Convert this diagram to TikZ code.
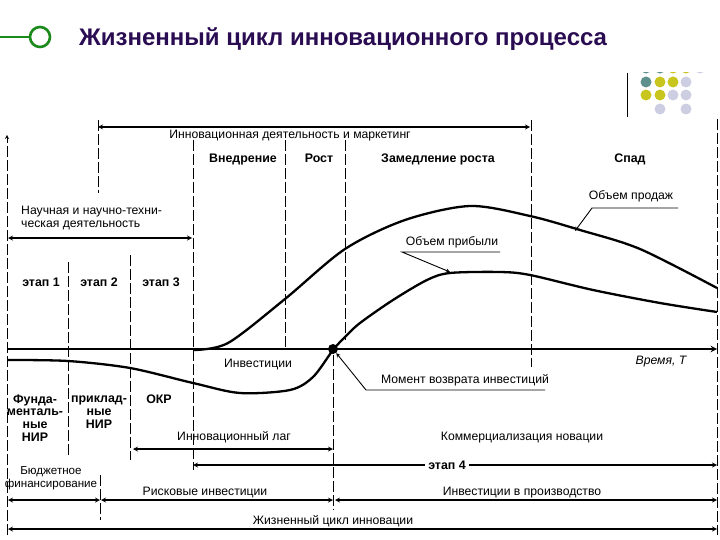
\documentclass[tikz,border=0pt]{standalone}
\usepackage{fontspec}
\setmainfont{Liberation Sans}
\usetikzlibrary{arrows,positioning}

\definecolor{titleviolet}{RGB}{42,12,82}
\definecolor{slidegreen}{RGB}{26,138,26}
\definecolor{dotteal}{RGB}{95,145,140}
\definecolor{dotolive}{RGB}{200,198,30}
\definecolor{dotlilac}{RGB}{206,206,226}

\begin{document}
\begin{tikzpicture}[
  x=1pt, y=-1pt, >=stealth,
  txt/.style={font=\fontsize{12.2}{13}\selectfont, inner sep=0pt},
  phase/.style={font=\fontsize{12.4}{12.7}\selectfont\bfseries, inner sep=0pt, align=center},
  guide/.style={dash pattern=on 11pt off 3pt, line width=0.8pt},
  span/.style={<->, line width=1.2pt},
  curve/.style={line width=2.3pt, line join=round},
  lead/.style={->, line width=0.9pt},
  bead/.style={circle, fill, inner sep=0pt, minimum size=10pt}
]
\useasboundingbox (0,0) rectangle (720,540);

% Title
\node[circle, draw=slidegreen, line width=2.6pt, minimum size=20pt, inner sep=0pt] (ring) at (40,37) {};
\coordinate (ruleL) at (0,37);
\draw[slidegreen, line width=2.6pt] (ruleL) -- (ring);
\node[anchor=base west, inner sep=0pt, font=\fontsize{24}{28}\selectfont\bfseries, text=titleviolet] (title) at (79,46) {Жизненный цикл инновационного процесса};

% Corner dots
\begin{scope}
  \clip (630,72.5) rectangle (710,80);
  \foreach \x/\c in {646/dotteal, 660/dotteal, 673/dotolive, 686/dotolive, 700/dotlilac}
    \fill[\c] (\x,68) circle (5.5);
\end{scope}
\foreach \x/\c in {646/dotteal, 660/dotolive, 673/dotolive, 686/dotlilac}
  \fill[\c] (\x,82) circle (5.5);
\foreach \x/\c in {646/dotolive, 660/dotolive, 673/dotlilac, 686/dotlilac}
  \fill[\c] (\x,95) circle (5.5);
\foreach \x in {660,686}
  \fill[dotlilac] (\x,109) circle (5.5);
\draw[line width=1pt] (627,73) -- (627,117);

% Borders and time axis
\coordinate (axisBot) at (7,535);
\coordinate (axisTop) at (7,135);
\draw[guide, ->] (axisBot) -- (axisTop);
\draw[guide] (717,119) -- (717,535);
\coordinate (t0) at (8,349);
\coordinate (t1) at (717,349);
\draw[->, line width=1.8pt] (t0) -- (t1);
\node[txt, font=\fontsize{12.2}{13}\selectfont\itshape] (time) at (661,362) {Время, T};

% Dashed guides
\foreach \x/\a/\b in {98/120/193, 193/140/470, 285/140/350, 345/140/340, 531/120/367,
                      68/262/455, 130/255/460, 333/355/510, 100/475/520}
  \draw[guide] (\x,\a) -- (\x,\b);

% Phases
\node[phase, anchor=base] (intro) at (243,163) {Внедрение};
\node[phase, anchor=base] (growth) at (319,163) {Рост};
\node[phase, anchor=base] (slow) at (438,163) {Замедление роста};
\node[phase, anchor=base] (decline) at (630,163) {Спад};

% Top span
\coordinate (mkL) at (98,127);
\coordinate (mkR) at (530,127);
\draw[span] (mkL) -- (mkR);
\node[txt, anchor=base] (mk) at (290,139) {Инновационная деятельность и маркетинг};

% Science
\node[txt, anchor=west, align=left] (sci) at (21,218) {Научная и научно-техни-\\ческая деятельность};
\coordinate (sciL) at (8,238);
\coordinate (sciR) at (192,238);
\draw[span] (sciL) -- (sciR);

\node[phase] (st1) at (41,282) {этап 1};
\node[phase] (st2) at (99,282) {этап 2};
\node[phase] (st3) at (161,282) {этап 3};

% Curves
\draw[curve] plot[smooth] coordinates {(193,350) (228,343) (285,299) (345,249) (405,220)
  (470,206) (530,216) (580,230) (640,249) (717,288)};
\draw[curve] plot[smooth] coordinates {(8,360) (68,361) (130,368) (193,383) (240,393)
  (290,390) (313,377) (333,350) (345,337) (360,323) (393,300) (427,280) (450,273)
  (500,272) (530,275) (593,290) (660,303) (717,312)};
\node[bead] (payback) at (333,349) {};

% Leaders
\node[txt] (sales) at (631,196) {Объем продаж};
\coordinate (salesU) at (678,208);
\coordinate (salesK) at (592,208);
\coordinate (salesTip) at (575,231);
\draw[lead] (salesU) -- (salesK) -- (salesTip);

\node[txt] (profit) at (452,242) {Объем прибыли};
\coordinate (profitU) at (500,252);
\coordinate (profitK) at (402,252);
\coordinate (profitTip) at (450,272);
\draw[lead] (profitU) -- (profitK) -- (profitTip);

\node[txt] (inv) at (258,365) {Инвестиции};
\node[txt] (moment) at (465,380) {Момент возврата инвестиций};
\coordinate (momentU) at (545,390);
\coordinate (momentK) at (366,390);
\draw[lead] (momentU) -- (momentK) -- (payback);

% Research stages
\node[phase] (fund) at (35,418) {Фунда-\\менталь-\\ные\\НИР};
\node[phase] (appl) at (99,412) {приклад-\\ные\\НИР};
\node[phase] (okr) at (159,399) {ОКР};

% Bottom spans
\node[txt] (lag) at (234,437) {Инновационный лаг};
\coordinate (lagL) at (133,449);
\coordinate (lagR) at (333,449);
\draw[span] (lagL) -- (lagR);
\node[txt] (comm) at (522,438) {Коммерциализация новации};

\coordinate (st4L) at (193,465);
\coordinate (st4R) at (717,465);
\draw[span] (st4L) -- (st4R);
\node[phase, fill=white, inner sep=3pt] (st4) at (447,465) {этап 4};

\node[txt, align=center, font=\fontsize{11.6}{13}\selectfont] (budget) at (51,478) {Бюджетное\\финансирование};
\coordinate (budL) at (8,500);
\coordinate (budR) at (100,500);
\draw[span] (budL) -- (budR);
\node[txt] (risk) at (205,493) {Рисковые инвестиции};
\coordinate (riskL) at (101,500);
\coordinate (riskR) at (333,500);
\draw[span] (riskL) -- (riskR);
\node[txt] (prod) at (522,493) {Инвестиции в производство};
\coordinate (prodL) at (335,500);
\coordinate (prodR) at (717,500);
\draw[span] (prodL) -- (prodR);

\node[txt] (life) at (333,521) {Жизненный цикл инновации};
\coordinate (lifeL) at (8,529);
\coordinate (lifeR) at (717,529);
\draw[span] (lifeL) -- (lifeR);

\end{tikzpicture}
\end{document}
